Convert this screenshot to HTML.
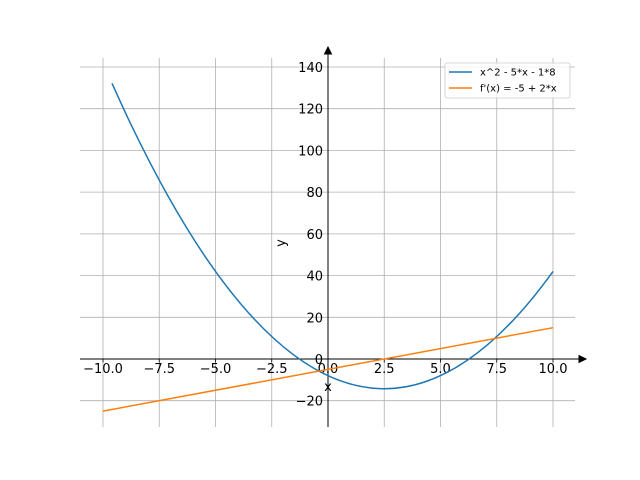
<!DOCTYPE html>
<html><head><meta charset="utf-8"><style>body{margin:0;background:#fff}svg{display:block}</style></head><body>
<svg width="640" height="480" xmlns="http://www.w3.org/2000/svg" font-family="DejaVu Sans, Liberation Sans, sans-serif" font-size="13">
<rect width="640" height="480" fill="#fff"/>
<g stroke="#b0b0b0" stroke-width="0.8">
<line x1="103" y1="58" x2="103" y2="427"/><line x1="159.25" y1="58" x2="159.25" y2="427"/>
<line x1="215.5" y1="58" x2="215.5" y2="427"/><line x1="271.75" y1="58" x2="271.75" y2="427"/>
<line x1="328" y1="58" x2="328" y2="427"/><line x1="384.25" y1="58" x2="384.25" y2="427"/>
<line x1="440.5" y1="58" x2="440.5" y2="427"/><line x1="496.75" y1="58" x2="496.75" y2="427"/>
<line x1="553" y1="58" x2="553" y2="427"/>
<line x1="80" y1="67" x2="575" y2="67"/><line x1="80" y1="108.7" x2="575" y2="108.7"/>
<line x1="80" y1="150.4" x2="575" y2="150.4"/><line x1="80" y1="192.1" x2="575" y2="192.1"/>
<line x1="80" y1="233.9" x2="575" y2="233.9"/><line x1="80" y1="275.6" x2="575" y2="275.6"/>
<line x1="80" y1="317.3" x2="575" y2="317.3"/><line x1="80" y1="359" x2="575" y2="359"/>
<line x1="80" y1="400.7" x2="575" y2="400.7"/>
</g>
<g stroke="#000" stroke-width="1">
<line x1="80" y1="359" x2="580" y2="359"/><polygon points="586,359 579,355.5 579,362.5" fill="#000"/>
<line x1="328" y1="427" x2="328" y2="54"/><polygon points="328,47 324.5,54 331.5,54" fill="#000"/>
</g>
<g stroke="#000" stroke-width="0.8">
<line x1="103" y1="359" x2="103" y2="362.5"/><line x1="159.25" y1="359" x2="159.25" y2="362.5"/><line x1="215.5" y1="359" x2="215.5" y2="362.5"/><line x1="271.75" y1="359" x2="271.75" y2="362.5"/><line x1="384.25" y1="359" x2="384.25" y2="362.5"/><line x1="440.5" y1="359" x2="440.5" y2="362.5"/><line x1="496.75" y1="359" x2="496.75" y2="362.5"/><line x1="553" y1="359" x2="553" y2="362.5"/>
</g>
<g text-anchor="middle" fill="#000">
<text x="103" y="373">−10.0</text><text x="159.25" y="373">−7.5</text><text x="215.5" y="373">−5.0</text><text x="271.75" y="373">−2.5</text><text x="328" y="373">0.0</text><text x="384.25" y="373">2.5</text><text x="440.5" y="373">5.0</text><text x="496.75" y="373">7.5</text><text x="553" y="373">10.0</text>
<text x="328" y="391">x</text>
</g>
<g text-anchor="end" fill="#000">
<text x="323" y="72">140</text><text x="323" y="113.7">120</text><text x="323" y="155.4">100</text><text x="323" y="197.1">80</text><text x="323" y="238.9">60</text><text x="323" y="280.6">40</text><text x="323" y="322.3">20</text><text x="323" y="364">0</text><text x="323" y="405.7">−20</text>
</g>
<text x="285" y="243" transform="rotate(-90 285 243)" text-anchor="middle">y</text>
<path d="M112,83.35 Q332.5,578 553,271.4" fill="none" stroke="#1f77b4" stroke-width="1.5"/>
<line x1="103" y1="411.1" x2="553" y2="327.7" stroke="#ff7f0e" stroke-width="1.5"/>
<rect x="445" y="63" width="125" height="35" rx="2" fill="#fff" fill-opacity="0.8" stroke="#ccc" stroke-width="0.8"/>
<line x1="449" y1="72" x2="472" y2="72" stroke="#1f77b4" stroke-width="1.5"/>
<line x1="449" y1="88" x2="472" y2="88" stroke="#ff7f0e" stroke-width="1.5"/>
<text x="480" y="75.5" font-size="10">x^2 - 5*x - 1*8</text>
<text x="480" y="91.5" font-size="10">f'(x) = -5 + 2*x</text>
</svg>
</body></html>
